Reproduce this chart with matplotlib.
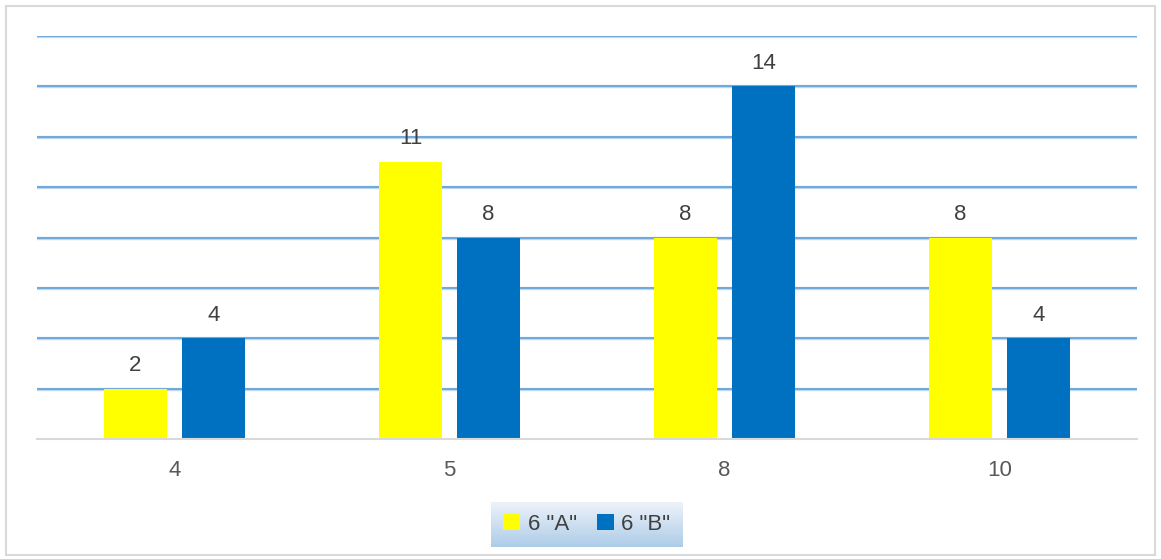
import numpy as np
import matplotlib
matplotlib.use("Agg")
import matplotlib.pyplot as plt
import matplotlib.patches as patches

plt.rcParams['font.family'] = ['Liberation Sans', 'DejaVu Sans']

categories = ["4", "5", "8", "10"]
series_names = ['6 "A"', '6 "B"']
values_a = [2, 11, 8, 8]
values_b = [4, 8, 14, 4]
colors = ["#ffff00", "#0070c0"]

W, H = 1161, 559
fig = plt.figure(figsize=(W / 100, H / 100), dpi=100)

# outer light-gray frame
fig.patches.append(patches.Rectangle((6 / W, 4 / H), 1149 / W, 549 / H,
                                     transform=fig.transFigure, fill=False,
                                     edgecolor="#d9d9d9", linewidth=1.5))

ax = fig.add_axes([37 / W, 1 - 439 / H, 1100 / W, 403 / H])
x = np.arange(len(categories))
bw = 0.2255
off = 0.1418
bars_a = ax.bar(x - off, values_a, bw, color=colors[0], label=series_names[0], zorder=3)
bars_b = ax.bar(x + off, values_b, bw, color=colors[1], label=series_names[1], zorder=3)

for bars in (bars_a, bars_b):
    for b in bars:
        ax.annotate(str(int(b.get_height())), (b.get_x() + b.get_width() / 2, b.get_height()),
                    xytext=(0, 9), textcoords="offset points", ha="center", va="bottom",
                    fontsize=16, color="#404040")

ax.set_xlim(-0.5, len(categories) - 0.5)
ax.set_ylim(0, 16)
ax.set_yticks(np.arange(2, 17, 2))
ax.yaxis.grid(True, color="#bdd7ee", linewidth=2.4, zorder=1)
for yv in np.arange(2, 17, 2):
    ax.axhline(yv, color="#5b9bd5", linewidth=1.1, zorder=2)
ax.set_xticks(x)
ax.set_xticklabels(categories, fontsize=16, color="#595959")
ax.tick_params(axis="x", length=0, pad=15)
ax.tick_params(axis="y", length=0, labelleft=False)
for s in ["top", "right", "left"]:
    ax.spines[s].set_visible(False)
ax.spines["bottom"].set_color("#d9d9d9")
ax.spines["bottom"].set_linewidth(1.5)
ax.spines["bottom"].set_zorder(4)

# legend with gradient background
lax = fig.add_axes([491 / W, 1 - 547 / H, 192 / W, 45 / H])
grad = np.linspace(0, 1, 100).reshape(-1, 1)
c_top = np.array([0.93, 0.95, 0.98])
c_bot = np.array([0.68, 0.80, 0.91])
img = c_top + grad[..., None] * (c_bot - c_top)
img = img.reshape(100, 1, 3)
lax.imshow(img, aspect="auto", extent=[0, 1, 0, 1])
lax.axis("off")
handles, labels = ax.get_legend_handles_labels()
lax.legend(handles, labels, loc="center", ncol=2, frameon=False, fontsize=16,
           handlelength=0.75, handleheight=0.75, handletextpad=0.35, columnspacing=0.9,
           labelcolor="#404040")

fig.savefig("out.png", dpi=100)
